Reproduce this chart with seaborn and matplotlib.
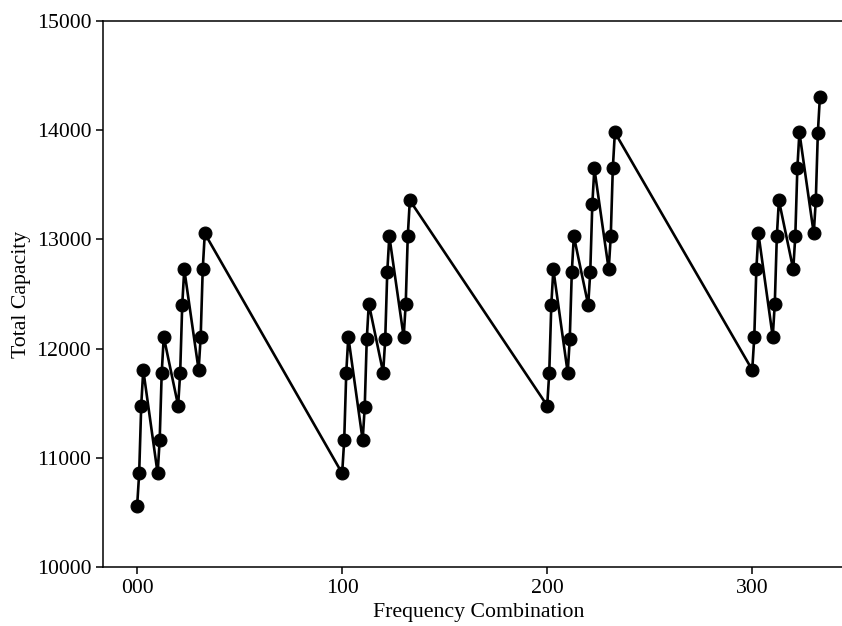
import matplotlib
matplotlib.use("Agg")
import matplotlib.pyplot as plt
import seaborn as sns
import pandas as pd

# Frequency combinations (three base-4 digits) and total capacity for each
combos = [
    "000", "001", "002", "003", "010", "011", "012", "013",
    "020", "021", "022", "023", "030", "031", "032", "033",
    "100", "101", "102", "103", "110", "111", "112", "113",
    "120", "121", "122", "123", "130", "131", "132", "133",
    "200", "201", "202", "203", "210", "211", "212", "213",
    "220", "221", "222", "223", "230", "231", "232", "233",
    "300", "301", "302", "303", "310", "311", "312", "313",
    "320", "321", "322", "323", "330", "331", "332", "333",
]
capacity = [
    10558, 10858, 11478, 11805, 10858, 11162, 11780, 12108,
    11478, 11780, 12400, 12726, 11805, 12108, 12726, 13055,
    10858, 11162, 11780, 12108, 11162, 11462, 12085, 12412,
    11780, 12085, 12702, 13030, 12108, 12410, 13030, 13358,
    11478, 11780, 12400, 12726, 11780, 12085, 12702, 13030,
    12400, 12702, 13320, 13650, 12726, 13030, 13650, 13980,
    11805, 12108, 12726, 13055, 12108, 12412, 13030, 13358,
    12726, 13030, 13650, 13980, 13055, 13358, 13978, 14305,
]
tick_values = [0, 100, 200, 300]
tick_labels = ["000", "100", "200", "300"]

df = pd.DataFrame({"combo": [int(c) for c in combos], "capacity": capacity})

sns.set_theme(style="ticks")
plt.rcParams["font.family"] = ["Liberation Serif", "DejaVu Serif"]
plt.rcParams["mathtext.fontset"] = "stix"

fig = plt.figure(figsize=(8.42, 6.26), dpi=100)
ax = fig.add_axes([0.1223, 0.0942, 0.892, 0.8722])

sns.lineplot(
    data=df, x="combo", y="capacity", ax=ax, sort=False,
    color="black", linewidth=1.9, marker="o", markersize=9.3,
    markeredgecolor="black", markerfacecolor="black",
)

ax.set_ylim(10000, 15000)
ax.set_xlim(-16.65, 349.65)
ax.set_xticks(tick_values)
ax.set_xticklabels(tick_labels)
ax.set_yticks([10000, 11000, 12000, 13000, 14000, 15000])
ax.tick_params(axis="both", labelsize=15.7, length=5, width=1.1, color="black",
               labelcolor="black")
ax.set_xlabel("Frequency Combination", fontsize=15.7, color="black")
ax.set_ylabel("Total Capacity", fontsize=15.7, color="black")
for side in ["left", "bottom", "top", "right"]:
    ax.spines[side].set_visible(True)
    ax.spines[side].set_color("black")
    ax.spines[side].set_linewidth(1.1)

fig.savefig("out.png", dpi=100)
